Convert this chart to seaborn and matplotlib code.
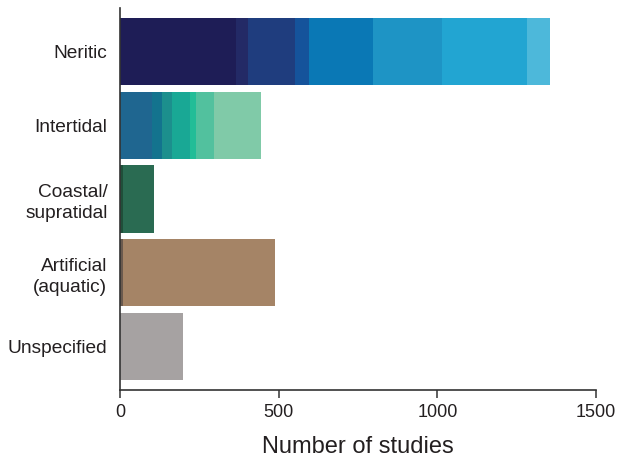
import matplotlib
matplotlib.use("Agg")
import matplotlib.pyplot as plt
import seaborn as sns
import pandas as pd
import numpy as np

categories = ["Neritic", "Intertidal", "Coastal/\nsupratidal", "Artificial\n(aquatic)", "Unspecified"]

neritic_vals = [366, 37, 149, 44, 201, 217, 269, 72]
neritic_cols = ["#1e1d56", "#232a66", "#1f3d7e", "#15539b", "#0a78b5", "#1e94c5", "#22a5d2", "#4db8da"]
intertidal_vals = [100, 31, 33, 57, 19, 56, 148]
intertidal_cols = ["#1f6690", "#13738e", "#1c8f8d", "#19a895", "#22bd97", "#52c19e", "#80caa8"]
coastal_vals = [10, 97]
coastal_cols = ["#1f4f3a", "#2a6b52"]
artificial_vals = [10, 478]
artificial_cols = ["#6b5a4e", "#a58466"]
unspecified_vals = [198]
unspecified_cols = ["#a6a2a2"]

xticks = [0, 500, 1000, 1500]

segments = [neritic_vals, intertidal_vals, coastal_vals, artificial_vals, unspecified_vals]
colours = [neritic_cols, intertidal_cols, coastal_cols, artificial_cols, unspecified_cols]

rows = []
for cat, vals, cols in zip(categories, segments, colours):
    cum = np.cumsum(vals)
    for i, (v, c) in enumerate(zip(cum, cols)):
        rows.append({"category": cat, "cum": v, "color": c, "layer": i})
df = pd.DataFrame(rows)

sns.set_style("white")
plt.rcParams["font.family"] = ["Liberation Sans", "DejaVu Sans"]

fig = plt.figure(figsize=(6.18, 4.58), dpi=100)
ax = fig.add_axes([120/618, 1-390/458, 476/618, 382/458])

# draw from largest cumulative to smallest so each segment is visible
for _, r in df.sort_values("cum", ascending=False).iterrows():
    sns.barplot(x=[r["cum"]], y=[r["category"]], order=categories, orient="h",
                color=r["color"], saturation=1, width=0.91, ax=ax, linewidth=0)

ax.set_xlim(0, 1500)
ax.set_ylim(4.59, -0.59)
ax.set_xticks(xticks)
ax.set_xticklabels([str(t) for t in xticks], fontsize=13, color="#231f20")
ax.tick_params(axis="x", bottom=True, direction="out", length=6, width=1.1, color="#333333", pad=4)
ax.tick_params(axis="y", left=False, length=0, pad=9, labelsize=13.8, labelcolor="#231f20")
ax.set_ylabel("")
ax.set_xlabel("Number of studies", fontsize=17, color="#231f20", labelpad=11)
for s in ["top", "right"]:
    ax.spines[s].set_visible(False)
for s in ["left", "bottom"]:
    ax.spines[s].set_color("#333333")
    ax.spines[s].set_linewidth(1.2)
for lab in ax.get_yticklabels():
    lab.set_multialignment("right")
    lab.set_linespacing(1.3)

fig.savefig("out.png", dpi=100)
